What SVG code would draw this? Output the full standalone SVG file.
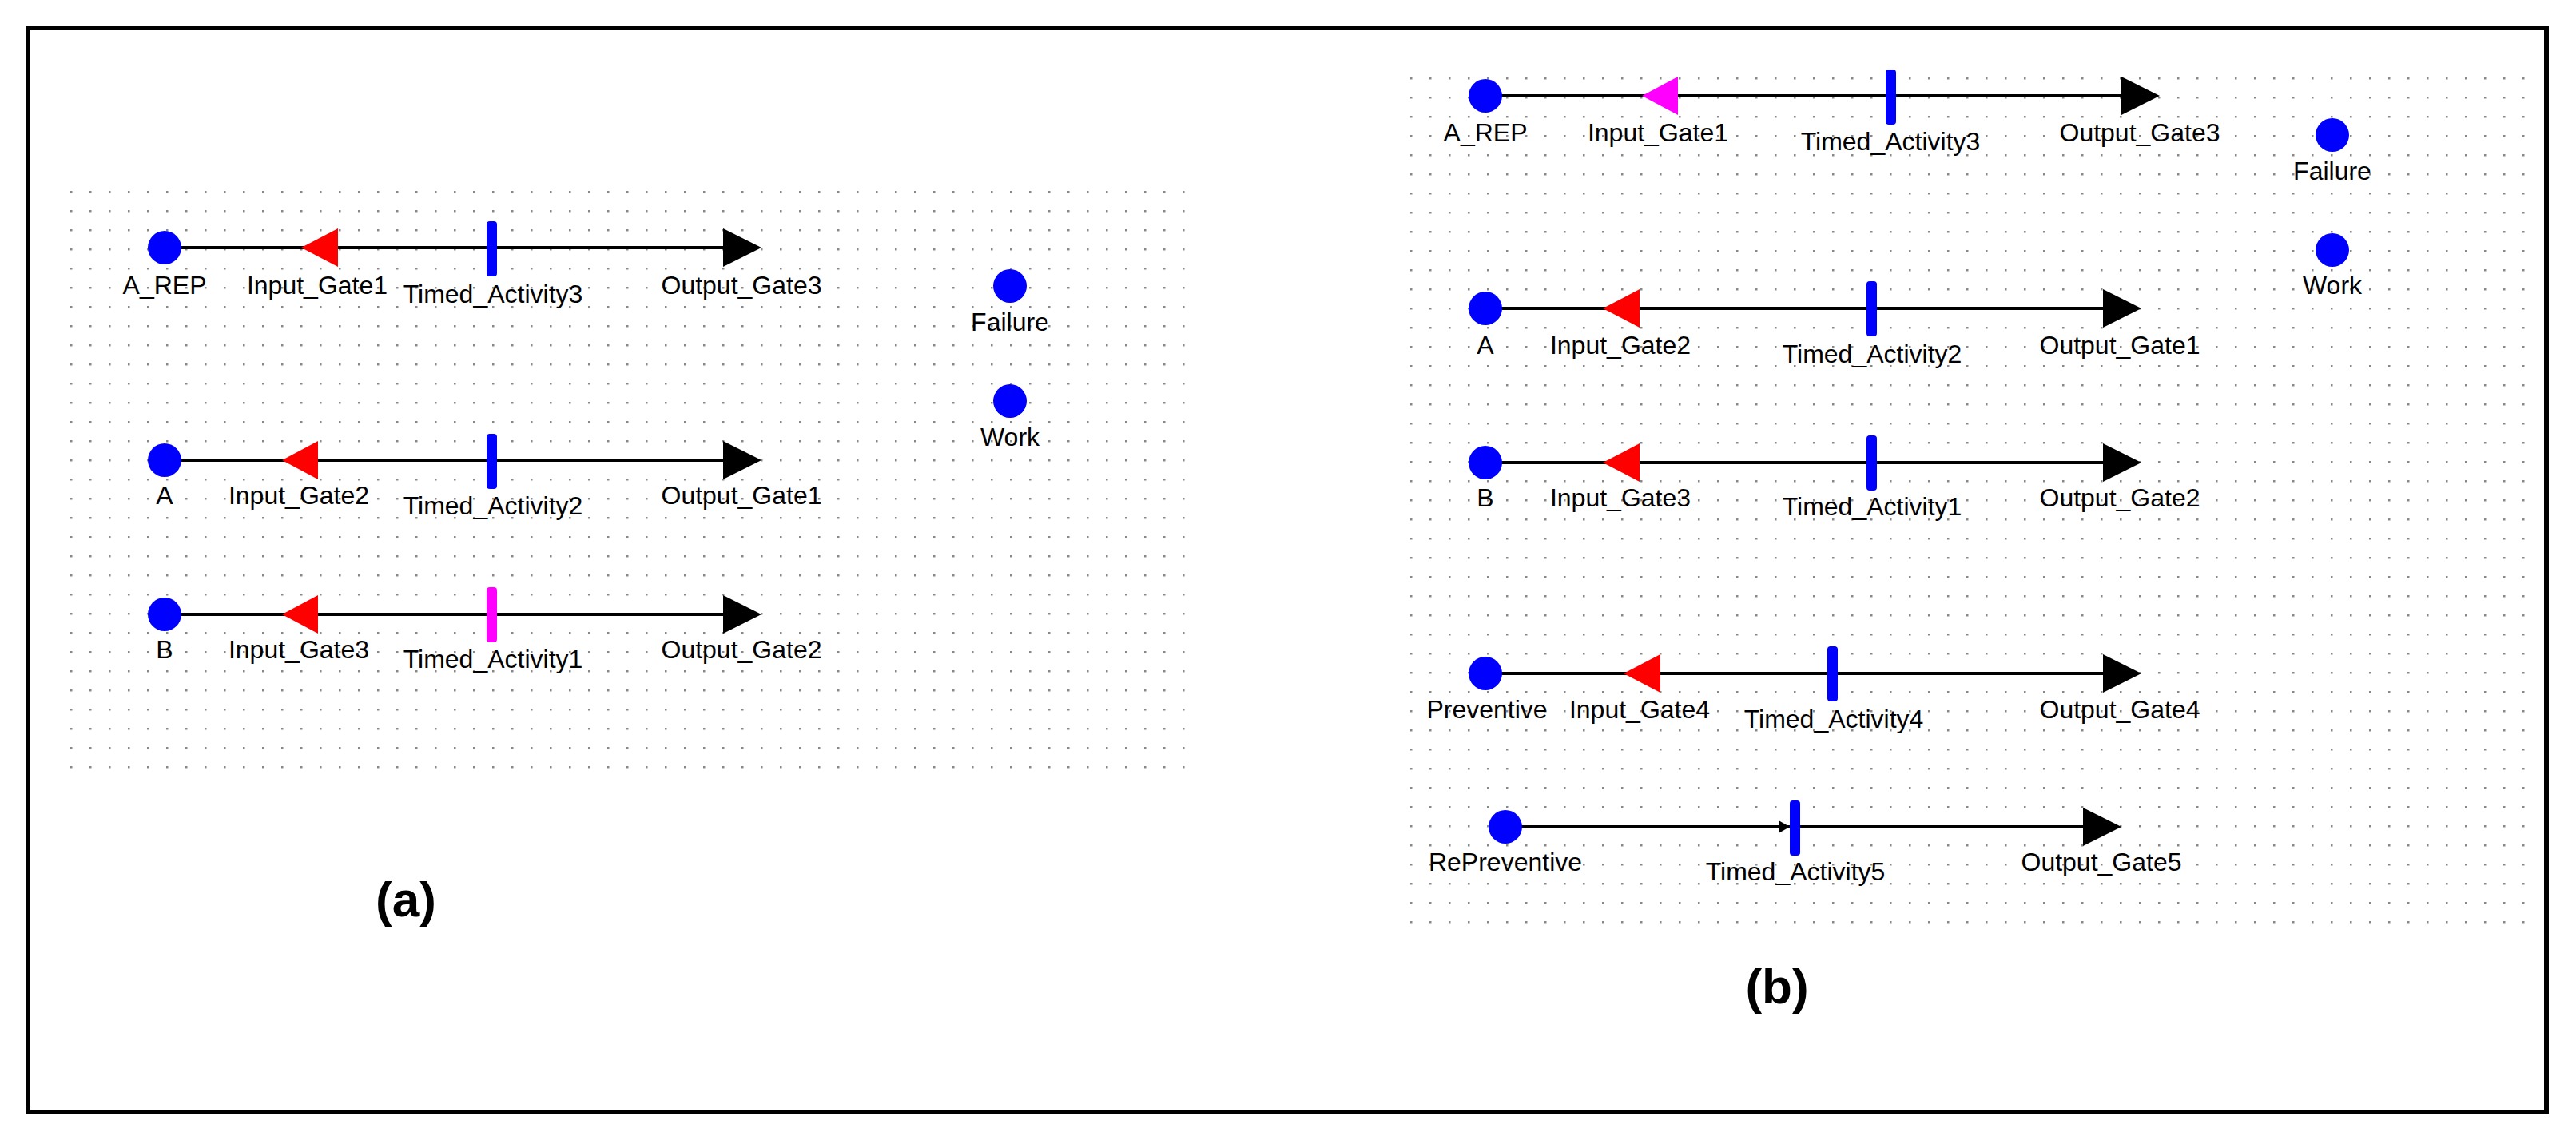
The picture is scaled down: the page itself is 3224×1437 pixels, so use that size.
<svg xmlns="http://www.w3.org/2000/svg" width="3224" height="1437" viewBox="0 0 3224 1437">
<defs>
<pattern id="ga" x="88" y="239" width="24" height="24" patternUnits="userSpaceOnUse"><rect x="0" y="0" width="2.5" height="2.5" fill="#888"/></pattern>
<pattern id="gb" x="1765" y="97" width="24" height="24" patternUnits="userSpaceOnUse"><rect x="0" y="0" width="2.5" height="2.5" fill="#888"/></pattern>
</defs>
<style>
.l{stroke:#000;stroke-width:4}
.p{fill:#0000ff}
.t{font-family:"Liberation Sans",Arial,sans-serif;font-size:32px;fill:#000;text-anchor:middle}
.cap{font-family:"Liberation Sans",Arial,sans-serif;font-size:62px;font-weight:bold;fill:#000;text-anchor:middle}
.bar{fill:#0000ff}
</style>
<rect width="3224" height="1437" fill="#fff"/>
<rect x="35" y="35" width="3152" height="1357" fill="none" stroke="#000" stroke-width="6"/>
<rect x="86" y="237" width="1406" height="728" fill="url(#ga)"/>
<rect x="1763" y="95" width="1405" height="1064" fill="url(#gb)"/>
<g id="connectors">
<line class="l" x1="206" y1="310" x2="905" y2="310"/>
<line class="l" x1="206" y1="576" x2="905" y2="576"/>
<line class="l" x1="206" y1="769" x2="905" y2="769"/>
<line class="l" x1="1859" y1="120" x2="2655" y2="120"/>
<line class="l" x1="1859" y1="386" x2="2632" y2="386"/>
<line class="l" x1="1859" y1="579" x2="2632" y2="579"/>
<line class="l" x1="1859" y1="843" x2="2632" y2="843"/>
<line class="l" x1="1884" y1="1035" x2="2607" y2="1035"/>
</g>
<g id="a_AREP"><circle class="p" cx="206" cy="310" r="21"/><text class="t" x="206" y="368">A_REP</text></g>
<g id="a_IG1"><polygon points="377,310 423,286 423,334" fill="#ff0000"/><text class="t" x="397" y="368">Input_Gate1</text></g>
<g id="a_TA3"><rect class="bar" x="609" y="277" width="13" height="69" rx="4"/><text class="t" x="617" y="379">Timed_Activity3</text></g>
<g id="a_OG3"><polygon points="953,310 905,286 905,334" fill="#000"/><text class="t" x="928" y="368">Output_Gate3</text></g>
<g id="a_A"><circle class="p" cx="206" cy="576" r="21"/><text class="t" x="206" y="631">A</text></g>
<g id="a_IG2"><polygon points="353,576 398,552 398,600" fill="#ff0000"/><text class="t" x="374" y="631">Input_Gate2</text></g>
<g id="a_TA2"><rect class="bar" x="609" y="543" width="13" height="69" rx="4"/><text class="t" x="617" y="644">Timed_Activity2</text></g>
<g id="a_OG1"><polygon points="953,576 905,552 905,600" fill="#000"/><text class="t" x="928" y="631">Output_Gate1</text></g>
<g id="a_B"><circle class="p" cx="206" cy="769" r="21"/><text class="t" x="206" y="824">B</text></g>
<g id="a_IG3"><polygon points="353,769 398,745 398,793" fill="#ff0000"/><text class="t" x="374" y="824">Input_Gate3</text></g>
<g id="a_TA1"><rect x="609" y="735" width="13" height="69" rx="4" fill="#ff00ff"/><text class="t" x="617" y="836">Timed_Activity1</text></g>
<g id="a_OG2"><polygon points="953,769 905,745 905,793" fill="#000"/><text class="t" x="928" y="824">Output_Gate2</text></g>
<g id="a_Failure"><circle class="p" cx="1264" cy="358" r="21"/><text class="t" x="1264" y="414">Failure</text></g>
<g id="a_Work"><circle class="p" cx="1264" cy="502" r="21"/><text class="t" x="1264" y="558">Work</text></g>
<text class="cap" x="508" y="1147">(a)</text>

<g id="b_AREP"><circle class="p" cx="1859" cy="120" r="21"/><text class="t" x="1859" y="177">A_REP</text></g>
<g id="b_IG1"><polygon points="2055,120 2100,96 2100,144" fill="#ff00ff"/><text class="t" x="2075" y="177">Input_Gate1</text></g>
<g id="b_TA3"><rect class="bar" x="2360" y="87" width="13" height="69" rx="4"/><text class="t" x="2366" y="188">Timed_Activity3</text></g>
<g id="b_OG3"><polygon points="2703,120 2655,96 2655,144" fill="#000"/><text class="t" x="2678" y="177">Output_Gate3</text></g>
<g id="b_Failure"><circle class="p" cx="2919" cy="169" r="21"/><text class="t" x="2919" y="225">Failure</text></g>
<g id="b_Work"><circle class="p" cx="2919" cy="313" r="21"/><text class="t" x="2919" y="368">Work</text></g>
<g id="b_A"><circle class="p" cx="1859" cy="386" r="21"/><text class="t" x="1859" y="443">A</text></g>
<g id="b_IG2"><polygon points="2006,386 2052,362 2052,410" fill="#ff0000"/><text class="t" x="2028" y="443">Input_Gate2</text></g>
<g id="b_TA2"><rect class="bar" x="2336" y="352" width="13" height="69" rx="4"/><text class="t" x="2343" y="454">Timed_Activity2</text></g>
<g id="b_OG1"><polygon points="2680,386 2632,362 2632,410" fill="#000"/><text class="t" x="2653" y="443">Output_Gate1</text></g>
<g id="b_B"><circle class="p" cx="1859" cy="579" r="21"/><text class="t" x="1859" y="634">B</text></g>
<g id="b_IG3"><polygon points="2006,579 2052,555 2052,603" fill="#ff0000"/><text class="t" x="2028" y="634">Input_Gate3</text></g>
<g id="b_TA1"><rect class="bar" x="2336" y="545" width="13" height="69" rx="4"/><text class="t" x="2343" y="645">Timed_Activity1</text></g>
<g id="b_OG2"><polygon points="2680,579 2632,555 2632,603" fill="#000"/><text class="t" x="2653" y="634">Output_Gate2</text></g>
<g id="b_Prev"><circle class="p" cx="1859" cy="843" r="21"/><text class="t" x="1861" y="899">Preventive</text></g>
<g id="b_IG4"><polygon points="2032,843 2078,819 2078,867" fill="#ff0000"/><text class="t" x="2052" y="899">Input_Gate4</text></g>
<g id="b_TA4"><rect class="bar" x="2287" y="809" width="13" height="69" rx="4"/><text class="t" x="2295" y="911">Timed_Activity4</text></g>
<g id="b_OG4"><polygon points="2680,843 2632,819 2632,867" fill="#000"/><text class="t" x="2653" y="899">Output_Gate4</text></g>
<g id="b_RePrev"><circle class="p" cx="1884" cy="1035" r="21"/><text class="t" x="1884" y="1090">RePreventive</text></g>
<g id="b_TA5"><polygon points="2240,1035 2226,1027 2226,1043" fill="#000"/><rect class="bar" x="2240" y="1002" width="13" height="69" rx="4"/><text class="t" x="2247" y="1102">Timed_Activity5</text></g>
<g id="b_OG5"><polygon points="2655,1035 2607,1011 2607,1059" fill="#000"/><text class="t" x="2630" y="1090">Output_Gate5</text></g>
<text class="cap" x="2224" y="1256">(b)</text>
</svg>
